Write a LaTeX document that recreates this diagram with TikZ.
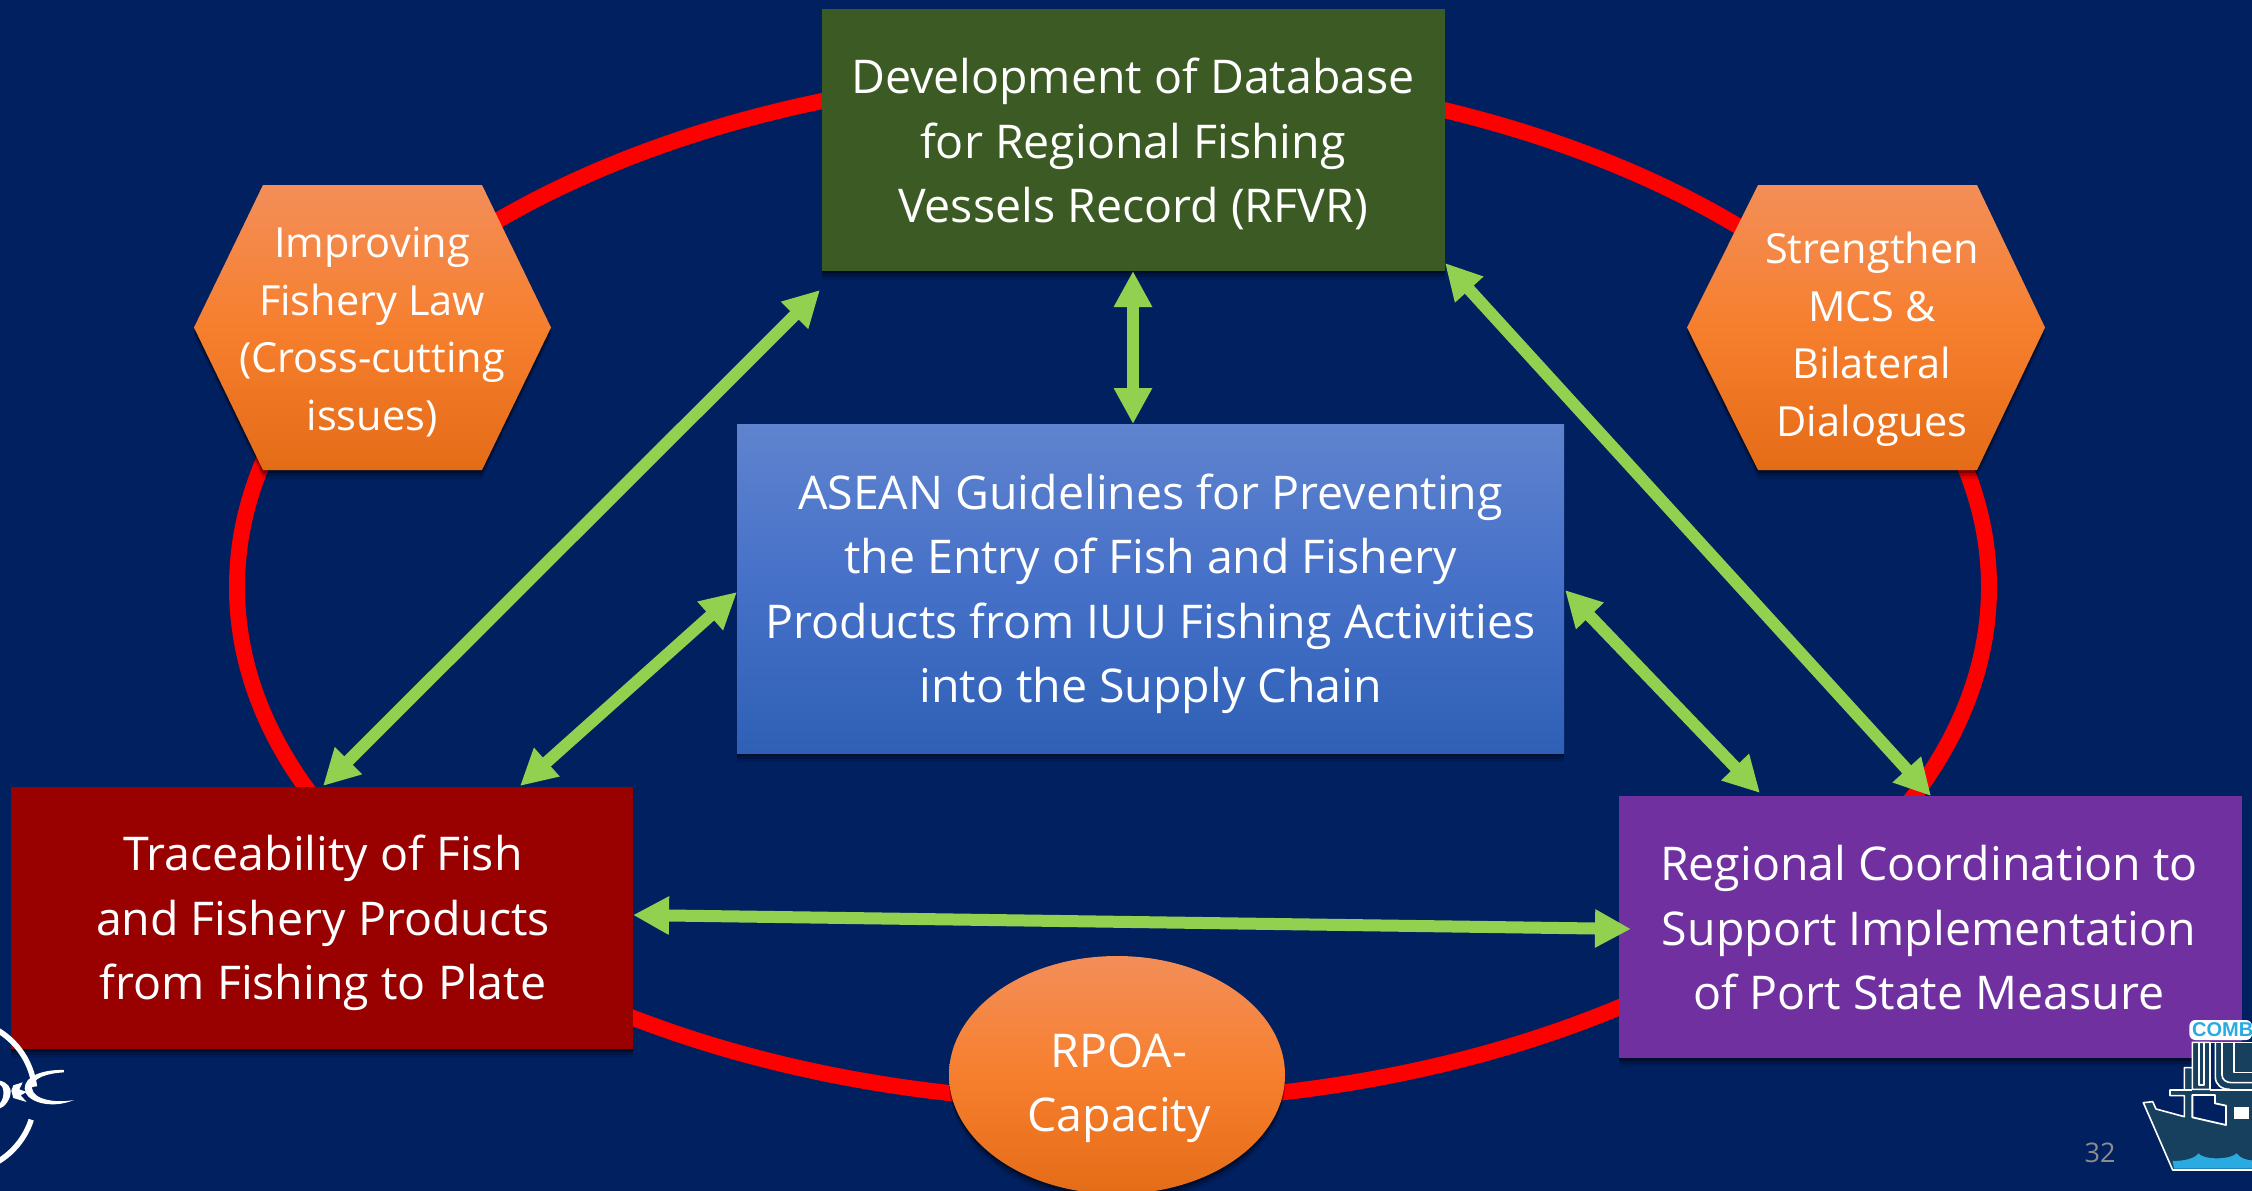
\documentclass[tikz,border=0pt]{standalone}
\usepackage{fontspec}
\setmainfont{Open Sans}
\newfontfamily\logofont{Liberation Sans}
\usetikzlibrary{arrows.meta,shadows,shapes.geometric}
\definecolor{bgblue}{HTML}{002060}
\definecolor{ringred}{HTML}{FF0000}
\definecolor{boxgreen}{HTML}{3C5A24}
\definecolor{boxred}{HTML}{990000}
\definecolor{boxpurple}{HTML}{7030A0}
\definecolor{linkgreen}{HTML}{92D050}
\definecolor{orangetop}{HTML}{F38E58}
\definecolor{orangemid}{HTML}{F67F2E}
\definecolor{orangelow}{HTML}{E56C17}
\definecolor{bluetop}{HTML}{5F83CE}
\definecolor{bluemid}{HTML}{4570C8}
\definecolor{bluelow}{HTML}{2F60B6}
\definecolor{hullblue}{HTML}{17405F}
\definecolor{waterblue}{HTML}{29ABE2}
\definecolor{pagegrey}{HTML}{8C8C8C}
\tikzset{
  softshadow/.style={
    drop shadow={shadow xshift=0pt,shadow yshift=-9pt,opacity=.10,fill=black},
    drop shadow={shadow xshift=0pt,shadow yshift=-6pt,opacity=.20,fill=black},
    drop shadow={shadow xshift=0pt,shadow yshift=-3pt,opacity=.30,fill=black}},
  boxbase/.style={rectangle,inner sep=0pt,softshadow},
  plainbox/.style={boxbase,fill=#1},
  boxlabel/.style={text=white,align=center,inner sep=0pt,font=\fontsize{46.5}{64.5}\selectfont},
  orangefill/.style={top color=orangetop,bottom color=orangelow,middle color=orangemid},
  hexlabel/.style={text=white,align=center,inner sep=0pt,font=\fontsize{41.5}{57.5}\selectfont},
  ring/.style={draw=ringred,line width=16pt},
  link/.style={draw=linkgreen,line width=12pt,
    {Triangle[length=36pt,width=36pt]}-{Triangle[length=36pt,width=36pt]},shorten <=0pt,shorten >=0pt},
}
\begin{document}
\begin{tikzpicture}[x=1pt,y=-1pt]
\useasboundingbox (0,0) rectangle (2252,1191);
\fill[bgblue] (0,0) rectangle (2252,1191);

% ring
\draw[ring] (1113,587) ellipse [x radius=876,y radius=515];

% hexagons
\path[orangefill,softshadow] (194,327.5) -- (263,185) -- (482,185) -- (551,327.5) -- (482,470) -- (263,470) -- cycle;
\node[hexlabel] (law) at (372,332) {Improving\\Fishery Law\\(Cross-cutting\\issues)};
\path[orangefill,softshadow] (1687,327.5) -- (1758,185) -- (1977,185) -- (2045,327.5) -- (1977,470) -- (1758,470) -- cycle;
\node[hexlabel] (mcs) at (1872,339) {Strengthen\\MCS \&\\Bilateral\\Dialogues};

% capacity ellipse
\node[ellipse,minimum width=336pt,minimum height=238pt,inner sep=0pt,orangefill,softshadow] (rpoa) at (1117,1075) {};
\node[boxlabel] (rpoatext) at (1119,1088) {RPOA-\\Capacity};

% boxes
\node[plainbox=boxgreen,minimum width=623pt,minimum height=262pt] (rfvr) at (1133.5,140) {};
\node[boxlabel] (rfvrtext) at (1133,144) {Development of Database\\for Regional Fishing\\Vessels Record (RFVR)};
\node[boxbase,top color=bluetop,bottom color=bluelow,middle color=bluemid,minimum width=827pt,minimum height=329pt] (asean) at (1150.5,588.5) {};
\node[boxlabel] (aseantext) at (1150.5,594) {ASEAN Guidelines for Preventing\\the Entry of Fish and Fishery\\Products from IUU Fishing Activities\\into the Supply Chain};
\node[plainbox=boxred,minimum width=622pt,minimum height=262pt] (trace) at (322,918) {};
\node[boxlabel] (tracetext) at (323,923) {Traceability of Fish\\and Fishery Products\\from Fishing to Plate};
\node[plainbox=boxpurple,minimum width=623pt,minimum height=262pt] (port) at (1930.5,927) {};
\node[boxlabel] (porttext) at (1929,928) {Regional Coordination to\\Support Implementation\\of Port State Measure};

% link ends
\coordinate (a1) at (820,290);
\coordinate (a2) at (323,786);
\coordinate (b1) at (1133,271);
\coordinate (b2) at (1133,424);
\coordinate (c1) at (737,592);
\coordinate (c2) at (520,786);
\coordinate (d1) at (1445,263);
\coordinate (d2) at (1931,796);
\coordinate (e1) at (1565,590);
\coordinate (e2) at (1760,793);
\coordinate (f1) at (633,915);
\coordinate (f2) at (1631,929);
\draw[link] (a1) -- (a2);
\draw[link] (b1) -- (b2);
\draw[link] (c1) -- (c2);
\draw[link] (d1) -- (d2);
\draw[link] (e1) -- (e2);
\draw[link] (f1) -- (f2);

% page number
\node[text=pagegrey,inner sep=0pt,font=\fontsize{27}{30}\selectfont] (pagenum) at (2100,1153) {32};

% left logo
\begin{scope}[shift={(0,1020)},x=0.3333pt,y=-0.3333pt]
  \draw[white,line width=5.5pt] (-125,228) ++(18:230) arc [start angle=18,end angle=120,radius=230];
  \draw[white,line width=5.5pt] (-125,228) ++(-7:230) arc [start angle=-7,end angle=-100,radius=230];
  \fill[white] (192,150) .. controls (130,148) and (74,168) .. (74,205)
     .. controls (74,244) and (150,270) .. (222,240)
     .. controls (170,250) and (100,240) .. (96,205)
     .. controls (96,174) and (140,160) .. (192,157) -- cycle;
  \fill[white] (68,187) -- (40,196) -- (34,212) -- (40,234) -- (80,246) -- (62,226) -- (80,216) -- (58,208) -- cycle;
  \fill[white] (0,182) .. controls (24,188) and (34,205) .. (32,218)
     .. controls (30,242) and (14,260) .. (0,265) -- (0,250)
     .. controls (8,240) and (12,225) .. (10,212) .. controls (8,200) and (4,196) .. (0,194) -- cycle;
\end{scope}

% right logo
\begin{scope}[shift={(2130,1010)},x=0.3333pt,y=-0.3333pt]
  \fill[hullblue] (40,278) -- (68,275) -- (78,297) -- (163,320) -- (163,257) -- (120,257) -- (120,240)
     -- (163,240) -- (163,173) -- (187,173) -- (187,97) -- (242,97) -- (242,240) -- (370,240) -- (370,480) -- (128,480) -- cycle;
  \fill[hullblue] (258,97) -- (370,97) -- (370,240) -- (240,240) -- (258,200) -- cycle;
  \fill[bgblue] (242,97) -- (256,97) -- (256,205) .. controls (256,225) and (270,238) .. (290,238) -- (242,238) -- cycle;
  \fill[waterblue] (128,453) .. controls (165,453) and (195,445) .. (205,430)
     .. controls (220,450) and (300,450) .. (320,430)
     .. controls (330,445) and (350,450) .. (370,452) -- (370,476) -- (132,476) -- cycle;
  \begin{scope}[white,line width=1.6pt,line join=round]
    \draw (370,480) -- (128,480) -- (40,278) -- (68,275) -- (78,297) -- (163,320) -- (163,257) -- (120,257) -- (120,240)
       -- (163,240) -- (163,173) -- (187,173) -- (187,97) -- (240,97) -- (240,238) -- (187,238) -- (187,173);
    \draw (163,240) -- (187,240);
    \draw (240,240) -- (370,240);
    \draw (207,97) -- (207,225) -- (222,225) -- (222,97);
    \draw (256,97) -- (256,200) .. controls (256,225) and (275,238) .. (300,238);
    \draw (276,97) -- (276,195) .. controls (276,210) and (290,218) .. (305,218) -- (370,218);
    \draw (312,97) -- (312,187) -- (370,187);
    \draw (187,97) -- (370,97);
  \end{scope}
  \draw[white,line width=1.8pt,fill=bgblue,line join=round] (187,255) -- (255,255) -- (255,280) -- (288,287) -- (288,345) -- (187,322) -- cycle;
  \fill[white] (313,292) rectangle (358,328);
  \fill[white,rounded corners=6pt] (178,30) rectangle (366,90);
  \node[anchor=west,inner sep=0pt,text=waterblue,font=\logofont\bfseries\fontsize{20}{24}\selectfont] (combat) at (186,60) {COMB};
\end{scope}
\end{tikzpicture}
\end{document}
